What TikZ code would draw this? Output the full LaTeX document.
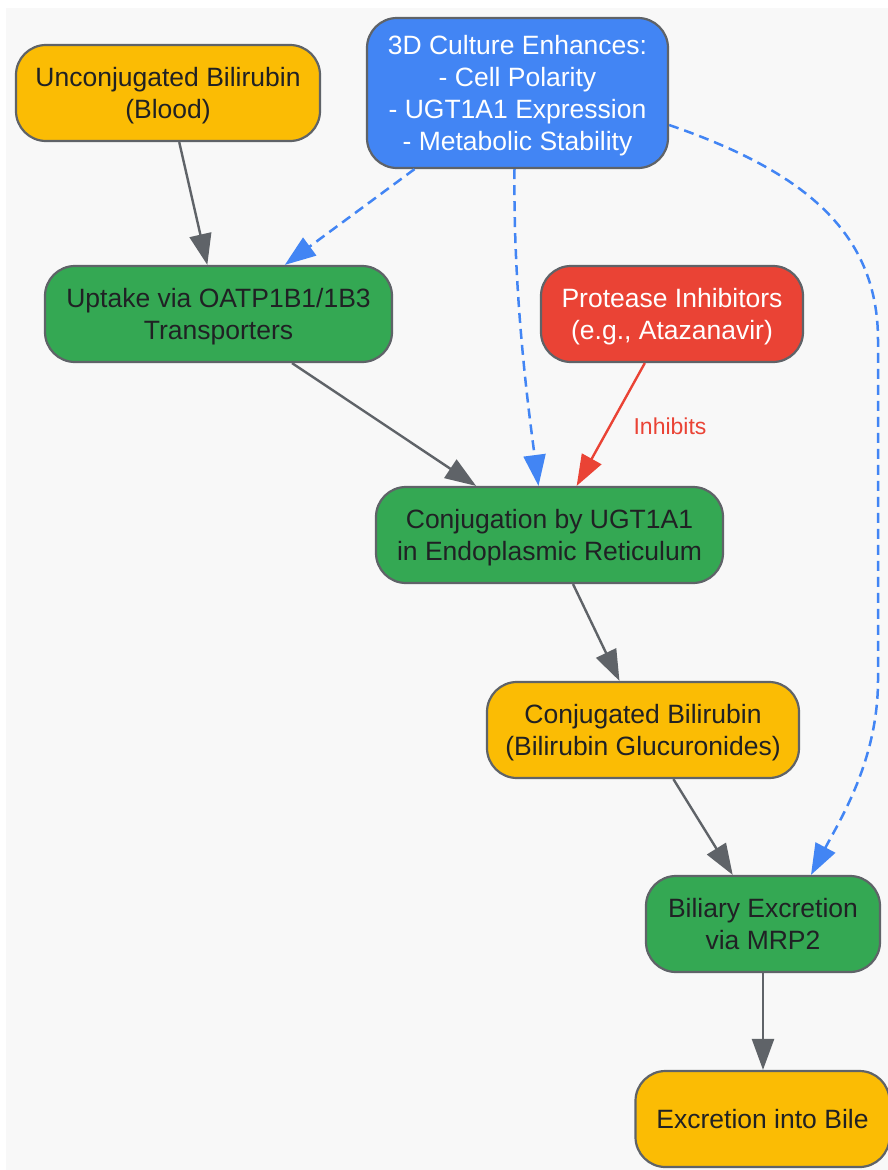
\documentclass[tikz,border=0pt]{standalone}
\usepackage{fontspec}
\setmainfont{Liberation Sans}
\usetikzlibrary{arrows.meta}
\definecolor{bgc}{HTML}{F8F8F8}
\definecolor{yel}{HTML}{FBBC04}
\definecolor{blu}{HTML}{4285F4}
\definecolor{grn}{HTML}{34A853}
\definecolor{rd}{HTML}{EA4335}
\definecolor{edge}{HTML}{5F6368}
\definecolor{txt}{HTML}{202124}
\tikzset{
  box/.style={draw=edge, line width=2.2pt, rounded corners=30pt, inner sep=0pt,
    align=center, font=\fontsize{26.5}{32}\selectfont, text=txt,
    text height=51pt, text depth=0pt},
  one/.style={text height=19pt},
  four/.style={text height=115pt},
  ybox/.style={box, fill=yel},
  gbox/.style={box, fill=grn},
  bbox/.style={box, fill=blu, text=white},
  rbox/.style={box, fill=rd, text=white},
  flow/.style={draw=edge, line width=2.4pt, -{Triangle[length=31pt,width=22pt]}},
  dflow/.style={draw=blu, line width=2.5pt, dash pattern=on 10pt off 6pt,
    -{Triangle[length=31pt,width=22pt]}},
  iflow/.style={draw=rd, line width=2.4pt, -{Triangle[length=31pt,width=22pt]}},
}
\begin{document}
\begin{tikzpicture}[x=1pt,y=-1pt]
\useasboundingbox (0,0) rectangle (888,1170);
\fill[white] (0,0) rectangle (888,1170);
\fill[bgc] (6,8) rectangle (888,1170);

\node[ybox, minimum width=304pt, minimum height=96pt] (unconj) at (168,93) {Unconjugated Bilirubin\\(Blood)};
\node[bbox, four, minimum width=301pt, minimum height=150pt] (culture) at (517.5,93) {3D Culture Enhances:\\- Cell Polarity\\- UGT1A1 Expression\\- Metabolic Stability};
\node[gbox, minimum width=347pt, minimum height=96pt] (uptake) at (218.5,314) {Uptake via OATP1B1/1B3\\Transporters};
\node[rbox, minimum width=262pt, minimum height=96pt] (prot) at (672,314) {Protease Inhibitors\\(e.g., Atazanavir)};
\node[gbox, minimum width=347pt, minimum height=96pt] (conj) at (549.5,535) {Conjugation by UGT1A1\\in Endoplasmic Reticulum};
\node[ybox, minimum width=312pt, minimum height=96pt] (conjb) at (643,730) {Conjugated Bilirubin\\(Bilirubin Glucuronides)};
\node[gbox, minimum width=234pt, minimum height=96pt] (bil) at (763,924) {Biliary Excretion\\via MRP2};
\node[ybox, one, minimum width=254pt, minimum height=96pt] (bile) at (762.5,1119) {Excretion into Bile};

\draw[flow] (unconj) -- (uptake);
\draw[dflow] (culture) -- (uptake);
\draw[dflow] ([xshift=-3pt]culture.south) .. controls (513,300) and (530,420) .. ([xshift=-11pt]conj.north);
\draw[dflow] ([yshift=-32pt]culture.east) .. controls (800,170) and (878,230) .. (878,340) -- (878,680) .. controls (878,760) and (840,820) .. ([xshift=48pt]bil.north);
\draw[flow] (uptake) -- (conj);
\draw[iflow] (prot) -- (conj);
\node[text=rd, font=\fontsize{23}{28}\selectfont, inner sep=0pt] (inh) at (670,426) {Inhibits};
\draw[flow] (conj) -- (conjb);
\draw[flow] (conjb) -- (bil);
\draw[flow] (bil.south) -- (bil.south |- bile.north);
\end{tikzpicture}
\end{document}
